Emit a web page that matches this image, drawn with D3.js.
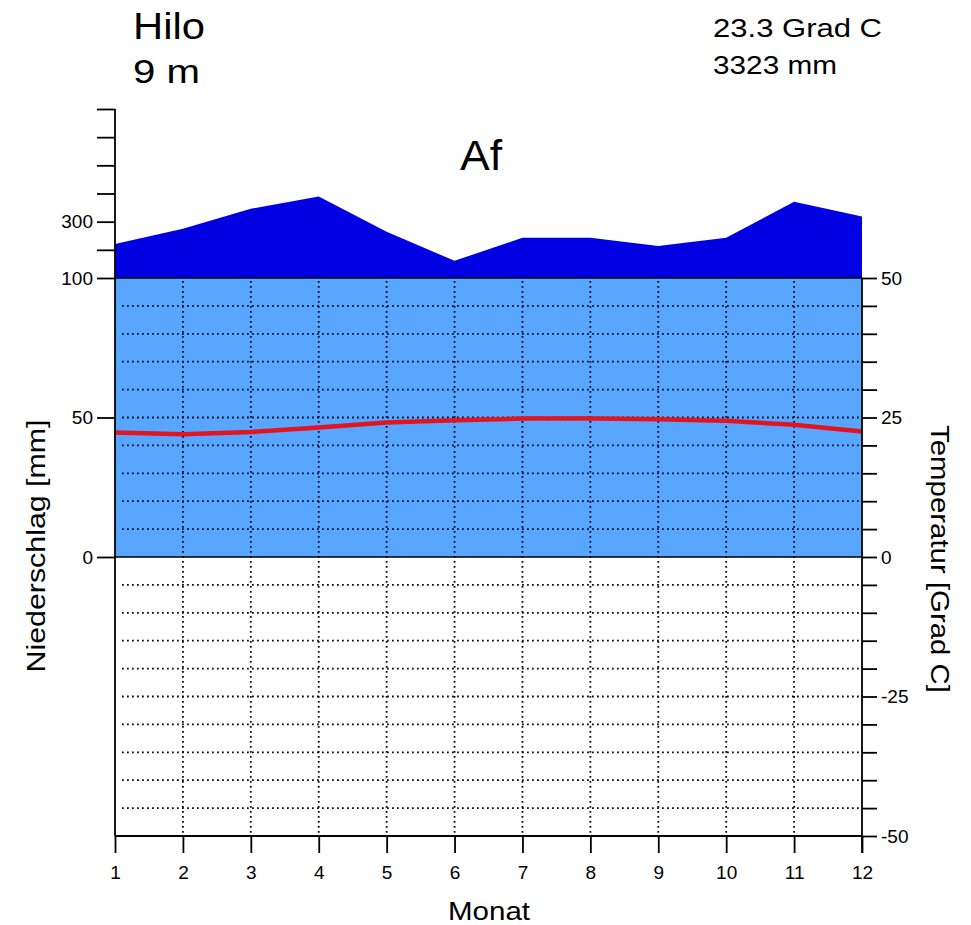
<!DOCTYPE html>
<html>
<head>
<meta charset="utf-8">
<script src="https://cdn.jsdelivr.net/npm/d3@7"></script>
<style>
  html, body { margin: 0; padding: 0; background: #fff; }
  svg { display: block; font-family: "Liberation Sans", Arial, sans-serif; }
</style>
</head>
<body>
<svg id="chart" width="971" height="925"></svg>
<script>
// ---- data ----
const months = [1, 2, 3, 4, 5, 6, 7, 8, 9, 10, 11, 12];
const precipitation = [221, 275, 346, 389, 264, 161, 243, 243, 214, 243, 371, 318]; // mm
const temperature = [22.3, 22.0, 22.4, 23.2, 24.1, 24.5, 24.8, 24.8, 24.7, 24.4, 23.7, 22.5]; // Grad C
const station = "Hilo";
const elevation = "9 m";
const annualTemp = "23.3 Grad C";
const annualPrecip = "3323 mm";
const climateClass = "Af";
const precipTicks = [0, 50, 100, 200, 300, 400, 500, 600, 700];
const precipTickLabels = [0, 50, 100, 300];
const tempTicks = d3.range(-50, 51, 5);
const tempTickLabels = [-50, -25, 0, 25, 50];

// ---- scales ----
const svg = d3.select("#chart");
const x = d3.scaleLinear().domain([1, 12]).range([115, 862]);
const yP = d3.scaleLinear().domain([0, 100, 700]).range([557, 278, 109]);
const yT = d3.scaleLinear().domain([-50, 50]).range([836, 278]);

const pdata = months.map((m, i) => ({ m, p: precipitation[i], t: temperature[i] }));

// light blue humid area (0..min(p,100))
svg.append("path")
  .datum(pdata)
  .attr("fill", "#58a6ff")
  .attr("d", d3.area().x(d => x(d.m)).y0(yP(0)).y1(d => yP(Math.min(d.p, 100))));

// dark blue area above 100 mm
svg.append("path")
  .datum(pdata)
  .attr("fill", "#0000e2")
  .attr("d", d3.area().x(d => x(d.m)).y0(yP(100)).y1(d => yP(Math.max(d.p, 100))));

// horizontal dotted grid
const gridH = tempTicks.filter(t => t !== 50 && t !== 0 && t !== -50);
svg.append("g").selectAll("line").data(gridH).join("line")
  .attr("x1", x(1) + 7).attr("x2", x(12) - 2)
  .attr("y1", d => yT(d)).attr("y2", d => yT(d))
  .attr("stroke", "#0a0a20").attr("stroke-width", 1.8)
  .attr("stroke-dasharray", "1.8,3.2");

// vertical dotted grid
svg.append("g").selectAll("line").data(months.slice(1, 11)).join("line")
  .attr("x1", d => x(d)).attr("x2", d => x(d))
  .attr("y1", yT(50) + 3).attr("y2", yT(-50))
  .attr("stroke", "#0a0a20").attr("stroke-width", 1.8)
  .attr("stroke-dasharray", "1.8,3.2");

// solid lines at 100 mm and 0
svg.append("line").attr("x1", x(1)).attr("x2", x(12))
  .attr("y1", yP(100)).attr("y2", yP(100)).attr("stroke", "#000").attr("stroke-width", 1.6);
svg.append("line").attr("x1", x(1)).attr("x2", x(12))
  .attr("y1", yP(0)).attr("y2", yP(0)).attr("stroke", "#000").attr("stroke-width", 1.6);

// temperature line
svg.append("path")
  .datum(pdata)
  .attr("fill", "none")
  .attr("stroke", "#e3141e")
  .attr("stroke-width", 4.5)
  .attr("d", d3.line().x(d => x(d.m)).y(d => yT(d.t)));

// ---- axes ----
const tickFont = g => g.selectAll("text")
  .attr("font-family", "'Liberation Sans', Arial, sans-serif")
  .attr("font-size", 19).attr("fill", "#000");

// left axis (precipitation)
const leftAxis = d3.axisLeft(yP).tickValues(precipTicks).tickSize(18).tickPadding(4)
  .tickFormat(d => precipTickLabels.includes(d) ? d : "");
const gl = svg.append("g").attr("transform", `translate(${x(1)},0)`).call(leftAxis);
gl.select(".domain").attr("d", `M0,${yP(700)}V${yT(-50)}`).attr("stroke-width", 1.8);
gl.selectAll(".tick line").attr("stroke-width", 1.8);
gl.call(tickFont);

// right axis (temperature)
const rightAxis = d3.axisRight(yT).tickValues(tempTicks).tickSize(15).tickPadding(4)
  .tickFormat(d => tempTickLabels.includes(d) ? d : "");
const gr = svg.append("g").attr("transform", `translate(${x(12)},0)`).call(rightAxis);
gr.select(".domain").attr("d", `M0,${yT(50)}V${yT(-50) + 17}`).attr("stroke-width", 1.8);
gr.selectAll(".tick line").attr("stroke-width", 1.8);
gr.call(tickFont);
gr.selectAll(".tick text").attr("x", 19);

// bottom axis (months)
const bottomAxis = d3.axisBottom(x).tickValues(months).tickSize(17).tickPadding(13)
  .tickFormat(d3.format("d"));
const gb = svg.append("g").attr("transform", `translate(0,${yT(-50)})`).call(bottomAxis);
gb.select(".domain").attr("d", `M${x(1)},0H${x(12)}`).attr("stroke-width", 1.8);
gb.selectAll(".tick line").attr("stroke-width", 1.8);
gb.call(tickFont);

// ---- texts ----
function txt(s, xx, yy, size, len, anchor) {
  const t = svg.append("text").attr("x", xx).attr("y", yy)
    .attr("font-size", size).attr("fill", "#000")
    .attr("text-anchor", anchor || "start").text(s);
  if (len) t.attr("textLength", len).attr("lengthAdjust", "spacingAndGlyphs");
  return t;
}
txt(station, 133, 39, 36, 72);
txt(elevation, 133, 83, 33, 67);
txt(annualTemp, 713, 37, 26, 169);
txt(annualPrecip, 713, 74, 26, 124);
txt(climateClass, 460, 170, 42, 42);
txt("Monat", 489, 920, 25, 82, "middle");

svg.append("text")
  .attr("transform", "translate(45,546) rotate(-90)")
  .attr("text-anchor", "middle").attr("font-size", 25)
  .attr("textLength", 253).attr("lengthAdjust", "spacingAndGlyphs")
  .text("Niederschlag [mm]");

svg.append("text")
  .attr("transform", "translate(931,559) rotate(90)")
  .attr("text-anchor", "middle").attr("font-size", 25)
  .attr("textLength", 268).attr("lengthAdjust", "spacingAndGlyphs")
  .text("Temperatur [Grad C]");
</script>
</body>
</html>
